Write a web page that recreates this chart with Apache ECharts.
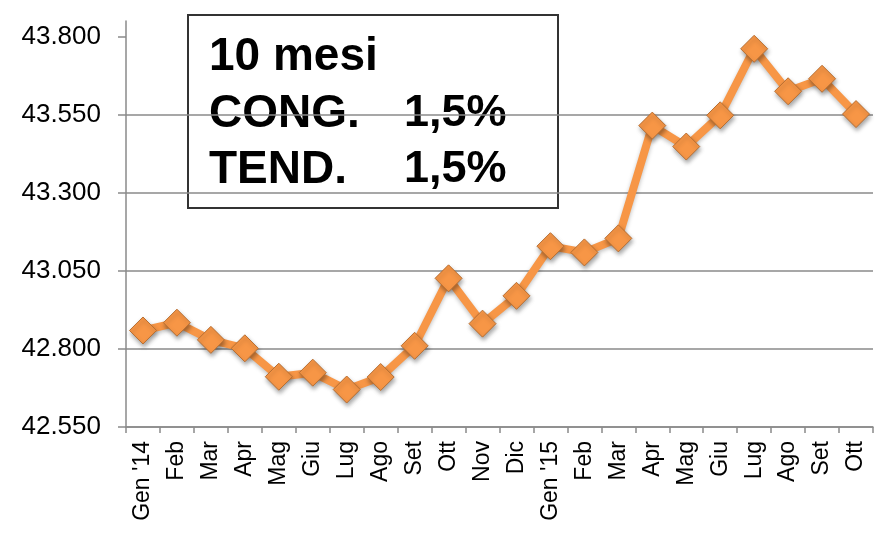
<!DOCTYPE html>
<html>
<head>
<meta charset="utf-8">
<script src="https://cdn.jsdelivr.net/npm/echarts@6/dist/echarts.min.js"></script>
<style>
  html, body { margin: 0; padding: 0; background: #fff; }
  #main { width: 875px; height: 534px; }
</style>
</head>
<body>
<div id="main"></div>
<script>
// mesi (categorie asse x)
var mesi = ['Gen \'14', 'Feb', 'Mar', 'Apr', 'Mag', 'Giu', 'Lug', 'Ago', 'Set', 'Ott', 'Nov', 'Dic',
            'Gen \'15', 'Feb', 'Mar', 'Apr', 'Mag', 'Giu', 'Lug', 'Ago', 'Set', 'Ott'];
// valori
var valori = [42859, 42884, 42829, 42802, 42711, 42724, 42670, 42710, 42810, 43026, 42881, 42970,
              43129, 43109, 43154, 43515, 43448, 43548, 43761, 43625, 43665, 43552];
// etichette asse y
var tickY = [42550, 42800, 43050, 43300, 43550, 43800];

var FONT = 'Liberation Sans, Arial, sans-serif';
var GRIGIO = '#8a8a8a';
var ARANCIO = '#f79646';

var myChart = echarts.init(document.getElementById('main'));

var option = {
  animation: false,
  backgroundColor: '#fff',
  grid: { left: 126, right: 2, top: 21, bottom: 107 },
  xAxis: {
    type: 'category',
    data: mesi,
    boundaryGap: true,
    axisLine: { lineStyle: { color: GRIGIO, width: 1.5 } },
    axisTick: { show: true, length: 6, lineStyle: { color: GRIGIO, width: 1.5 } },
    axisLabel: {
      rotate: 90,
      interval: 0,
      margin: 14,
      color: '#000',
      fontSize: 23,
      fontFamily: FONT
    },
    splitLine: { show: false }
  },
  yAxis: {
    type: 'value',
    min: 42550,
    max: 43850,
    interval: 250,
    axisLine: { show: true, lineStyle: { color: GRIGIO, width: 1.5 } },
    axisTick: { show: true, length: 8, customValues: tickY, lineStyle: { color: GRIGIO, width: 1.5 } },
    axisLabel: {
      customValues: tickY,
      margin: 25,
      color: '#000',
      fontSize: 26,
      fontFamily: FONT,
      formatter: function (v) { return (v / 1000).toFixed(3); }
    },
    splitLine: { show: true, showMaxLine: false, lineStyle: { color: GRIGIO, width: 1.5 } }
  },
  series: [{
    type: 'line',
    data: valori,
    symbol: 'diamond',
    symbolSize: 27,
    lineStyle: {
      color: ARANCIO,
      width: 8,
      shadowColor: 'rgba(0,0,0,0.25)',
      shadowBlur: 4,
      shadowOffsetY: 2
    },
    itemStyle: {
      color: ARANCIO,
      borderColor: '#b86f32',
      borderWidth: 1,
      shadowColor: 'rgba(0,0,0,0.35)',
      shadowBlur: 4,
      shadowOffsetX: 1,
      shadowOffsetY: 3
    },
    z: 3
  }],
  graphic: [{
    type: 'group',
    left: 187,
    top: 14,
    children: [
      {
        type: 'rect',
        shape: { x: 0, y: 0, width: 370, height: 193 },
        style: { fill: '#fff', stroke: '#333', lineWidth: 2 }
      },
      {
        type: 'text',
        style: { x: 21, y: 42, text: '10 mesi', font: 'bold 46px ' + FONT, fill: '#000', verticalAlign: 'middle' }
      },
      {
        type: 'text',
        style: { x: 21, y: 99, text: 'CONG.', font: 'bold 46px ' + FONT, fill: '#000', verticalAlign: 'middle' }
      },
      {
        type: 'text',
        style: { x: 216, y: 99, text: '1,5%', font: 'bold 45px ' + FONT, fill: '#000', verticalAlign: 'middle' }
      },
      {
        type: 'text',
        style: { x: 21, y: 155, text: 'TEND.', font: 'bold 46px ' + FONT, fill: '#000', verticalAlign: 'middle' }
      },
      {
        type: 'text',
        style: { x: 216, y: 155, text: '1,5%', font: 'bold 45px ' + FONT, fill: '#000', verticalAlign: 'middle' }
      }
    ]
  }]
};

myChart.setOption(option);
</script>
</body>
</html>
